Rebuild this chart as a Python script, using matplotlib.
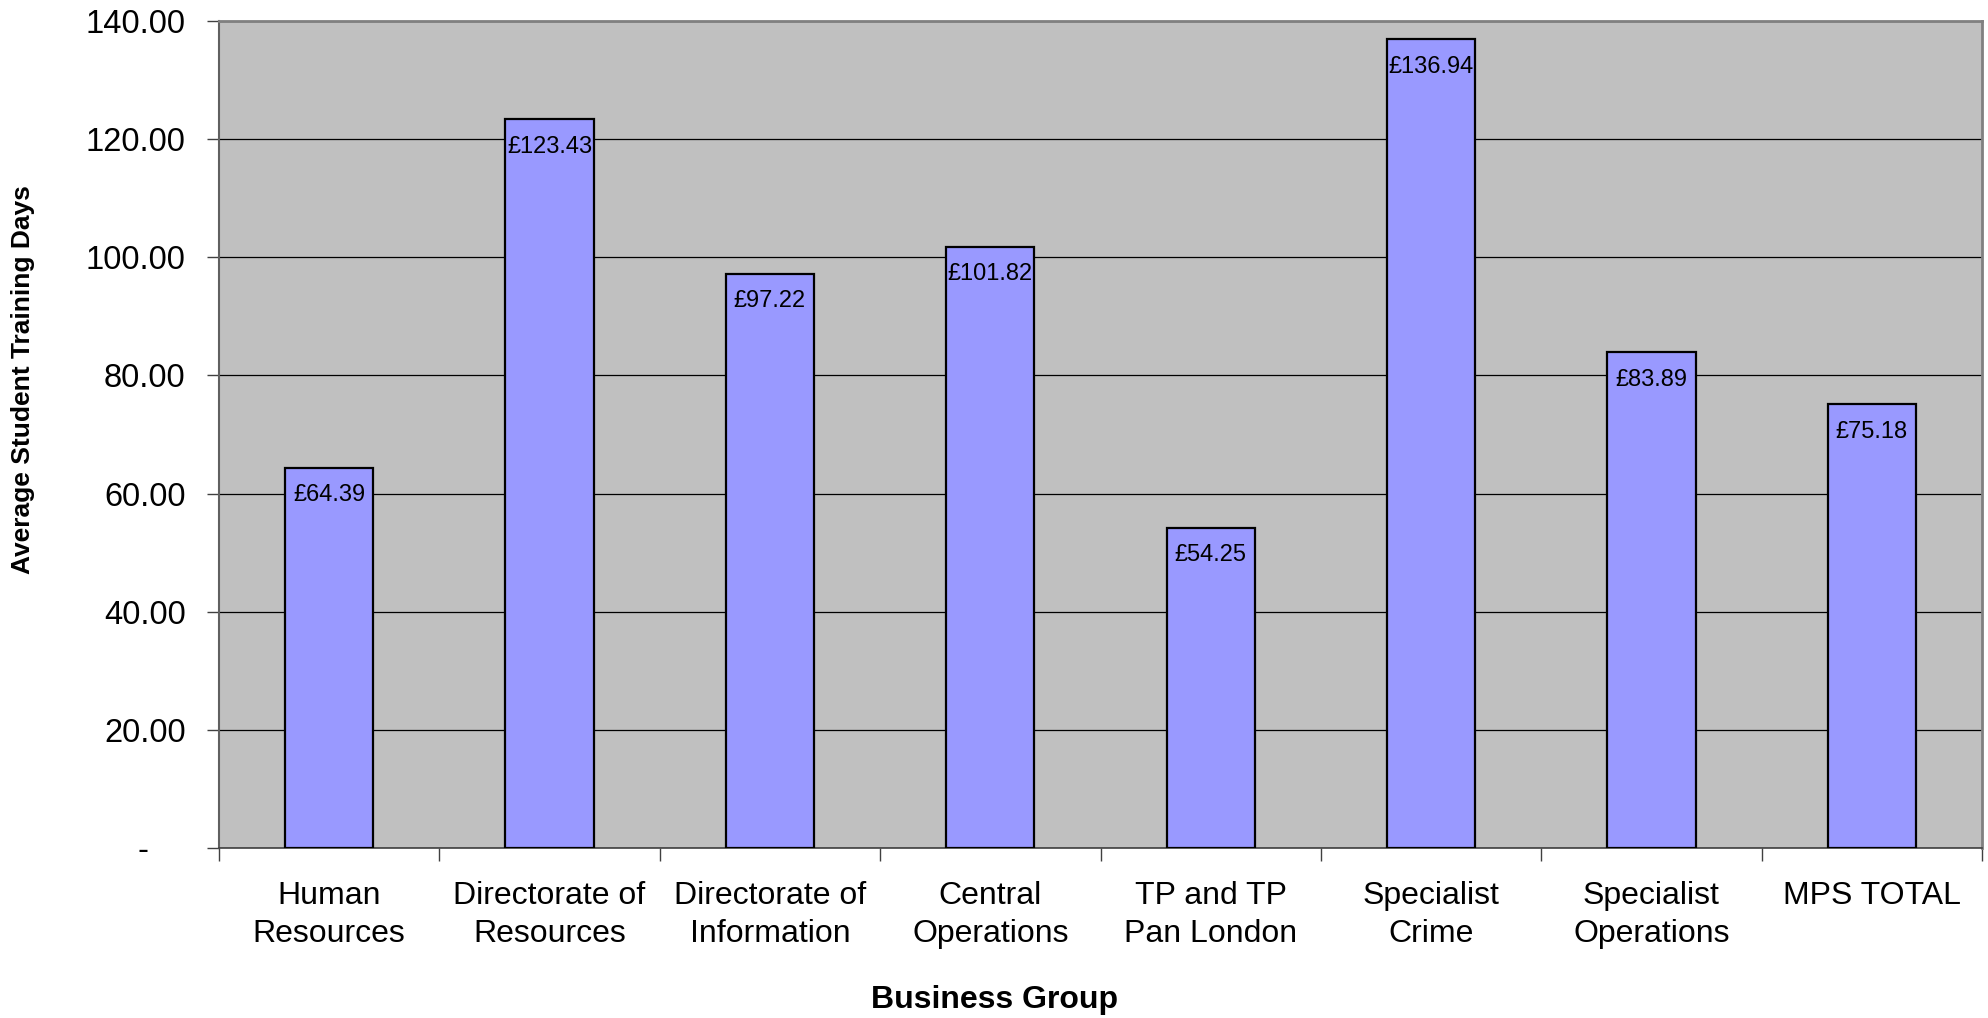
import matplotlib
matplotlib.use("Agg")
import matplotlib.pyplot as plt
import numpy as np

# ── Data ──────────────────────────────────────────────────────────────────────
groups = [
    "Human\nResources",
    "Directorate of\nResources",
    "Directorate of\nInformation",
    "Central\nOperations",
    "TP and TP\nPan London",
    "Specialist\nCrime",
    "Specialist\nOperations",
    "MPS TOTAL",
]
avg_days = [64.39, 123.43, 97.22, 101.82, 54.25, 136.94, 83.89, 75.18]
y_ticks = [0, 20, 40, 60, 80, 100, 120, 140]
y_tick_labels = ["-    ", "20.00", "40.00", "60.00", "80.00", "100.00", "120.00", "140.00"]

plt.rcParams["font.family"] = ["Liberation Sans", "DejaVu Sans"]

fig = plt.figure(figsize=(19.88, 10.18), dpi=100)
ax = fig.add_axes([219 / 1988, 1 - 848 / 1018, (1982 - 219) / 1988, (848 - 21) / 1018])
ax.set_facecolor("#C0C0C0")

xs = np.arange(len(groups))
bars = ax.bar(xs, avg_days, width=0.4, color="#9999FF", edgecolor="black",
              linewidth=1.6, zorder=3)

for x, v in zip(xs, avg_days):
    ax.annotate(f"£{v:.2f}", (x, v), xytext=(0, -12), textcoords="offset points",
                ha="center", va="top", fontsize=17, zorder=4)

ax.set_xlim(-0.5, len(groups) - 0.5)
ax.set_ylim(0, 140)
ax.set_yticks(y_ticks)
ax.set_yticklabels(y_tick_labels, fontsize=23.5)
ax.yaxis.grid(True, color="black", linewidth=0.9, zorder=1)
ax.set_axisbelow(True)

# category boundaries carry the ticks, names sit centred under the bars
ax.set_xticks(np.arange(len(groups) + 1) - 0.5)
ax.set_xticklabels([])
ax.set_xticks(xs, minor=True)
ax.set_xticklabels(groups, minor=True, fontsize=23, linespacing=1.38)
ax.tick_params(axis="x", which="minor", length=0, pad=23.5)
ax.tick_params(axis="x", which="major", length=9, width=1, color="#404040")
ax.tick_params(axis="y", length=9, width=1, color="#404040", pad=15)

for side in ["top", "right"]:
    ax.spines[side].set_color("#808080")
    ax.spines[side].set_linewidth(2)
ax.spines["left"].set_color("#606060")
ax.spines["left"].set_linewidth(1.5)
ax.spines["bottom"].set_color("#404040")
ax.spines["bottom"].set_linewidth(1.2)

fig.text(995 / 1988, 1 - 1000 / 1018, "Business Group", ha="center", va="center",
         fontsize=23, fontweight="bold")
fig.text(23 / 1988, 1 - 380 / 1018, "Average Student Training Days", ha="center",
         va="center", rotation=90, fontsize=19, fontweight="bold")

fig.savefig("out.png", dpi=100)
